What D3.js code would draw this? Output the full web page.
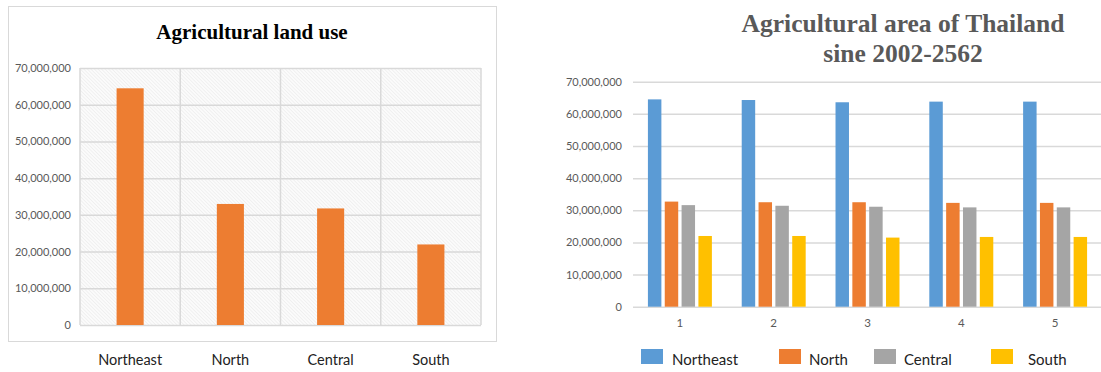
<!DOCTYPE html>
<html>
<head>
<meta charset="utf-8">
<script src="https://cdn.jsdelivr.net/npm/d3@7"></script>
<style>
  body { margin: 0; background: #fff; }
  svg { display: block; }
  .tick text { font-family: Lato, sans-serif; }
</style>
</head>
<body>
<svg id="chart" width="1101" height="372"></svg>
<script>
// left chart: land use by region
const regions = ['Northeast', 'North', 'Central', 'South'];
const landUse = [64470000, 32970000, 31750000, 21940000];

// right chart: area per year
const years = ['1', '2', '3', '4', '5'];
const northeast = [64500000, 64300000, 63600000, 63800000, 63800000];
const north = [32700000, 32500000, 32500000, 32300000, 32300000];
const central = [31600000, 31400000, 31100000, 30900000, 30900000];
const south = [22000000, 22000000, 21500000, 21700000, 21700000];
const yTicks = [0, 10000000, 20000000, 30000000, 40000000, 50000000, 60000000, 70000000];

const colors = ['#5B9BD5', '#ED7D31', '#A5A5A5', '#FFC000'];
const grid = '#d9d9d9';
const labelColor = '#595959';
const fmt = d3.format(',');

const svg = d3.select('#chart');

// hatched background for the left plot area
const defs = svg.append('defs');
const pat = defs.append('pattern')
    .attr('id', 'hatch')
    .attr('patternUnits', 'userSpaceOnUse')
    .attr('width', 2.5).attr('height', 2.5)
    .attr('patternTransform', 'rotate(-45)');
pat.append('rect').attr('width', 2.5).attr('height', 2.5).attr('fill', '#fbfbfb');
pat.append('line')
    .attr('x1', 0).attr('y1', 0).attr('x2', 0).attr('y2', 2.5)
    .attr('stroke', '#e8e8e8').attr('stroke-width', 1);

// ---------- left chart ----------
const left = svg.append('g');
left.append('rect')
    .attr('x', 8.5).attr('y', 6.5)
    .attr('width', 488).attr('height', 335)
    .attr('fill', '#fff').attr('stroke', grid);

left.append('text')
    .attr('x', 252).attr('y', 39)
    .attr('text-anchor', 'middle')
    .style('font-family', '"Liberation Serif", "Times New Roman", serif')
    .style('font-weight', 'bold')
    .style('font-size', '21px')
    .attr('fill', '#000')
    .text('Agricultural land use');

const lx = d3.scaleBand().domain(regions).range([80, 481])
    .paddingInner(0.73).paddingOuter(0.365);
const ly = d3.scaleLinear().domain([0, 70000000]).range([325, 68]);

left.append('rect')
    .attr('x', 80).attr('y', 68)
    .attr('width', 401).attr('height', 257)
    .attr('fill', 'url(#hatch)');

// horizontal grid + labels
const lAxis = left.append('g')
    .attr('transform', 'translate(80,0)')
    .call(d3.axisLeft(ly).tickValues(yTicks).tickFormat(fmt).tickSize(-401).tickPadding(9));
lAxis.select('.domain').remove();
lAxis.selectAll('.tick line').attr('stroke', grid).attr('stroke-width', 1.5);
lAxis.selectAll('.tick text').attr('fill', labelColor).style('font-size', '11px');

// vertical grid at band boundaries
const bounds = regions.map(r => lx(r) + lx.bandwidth() / 2 - lx.step() / 2)
    .concat([lx(regions[regions.length - 1]) + lx.bandwidth() / 2 + lx.step() / 2]);
left.selectAll('.vgrid').data(bounds).enter().append('line')
    .attr('x1', d => d).attr('x2', d => d)
    .attr('y1', 68).attr('y2', 325)
    .attr('stroke', grid).attr('stroke-width', 1.5);

left.selectAll('.bar').data(landUse).enter().append('rect')
    .attr('x', (d, i) => lx(regions[i]))
    .attr('y', d => ly(d))
    .attr('width', lx.bandwidth())
    .attr('height', d => ly(0) - ly(d))
    .attr('fill', colors[1]);

left.selectAll('.cat').data(regions).enter().append('text')
    .attr('x', d => lx(d) + lx.bandwidth() / 2)
    .attr('y', 360)
    .attr('dy', '0.35em')
    .attr('text-anchor', 'middle')
    .style('font-family', 'Lato, sans-serif')
    .style('font-size', '14.5px')
    .attr('fill', '#222')
    .text(d => d);

// ---------- right chart ----------
const right = svg.append('g');
const titleLines = ['Agricultural area of Thailand', 'sine 2002-2562'];
right.selectAll('.title').data(titleLines).enter().append('text')
    .attr('x', 903)
    .attr('y', (d, i) => 32 + i * 30)
    .attr('text-anchor', 'middle')
    .style('font-family', '"Liberation Serif", "Times New Roman", serif')
    .style('font-weight', 'bold')
    .style('font-size', '25.5px')
    .attr('fill', labelColor)
    .text(d => d);

const series = [northeast, north, central, south];
const names = ['Northeast', 'North', 'Central', 'South'];

const x0 = d3.scaleBand().domain(years).range([633, 1102])
    .paddingInner(0.318).paddingOuter(0.159);
const x1 = d3.scaleBand().domain(names).range([0, x0.bandwidth()]).paddingInner(0.2);
const ry = d3.scaleLinear().domain([0, 70000000]).range([306.7, 81.7]);

const rAxis = right.append('g')
    .attr('transform', 'translate(633,0)')
    .call(d3.axisLeft(ry).tickValues(yTicks).tickFormat(fmt).tickSize(-468).tickPadding(11));
rAxis.select('.domain').remove();
rAxis.selectAll('.tick line').attr('stroke', grid).attr('stroke-width', 1.5);
rAxis.selectAll('.tick text').attr('fill', labelColor).style('font-size', '11px');

const groups = right.selectAll('.grp').data(years).enter().append('g')
    .attr('transform', d => 'translate(' + x0(d) + ',0)');
groups.selectAll('rect')
    .data((d, i) => names.map((n, k) => ({ name: n, value: series[k][i], k: k })))
    .enter().append('rect')
    .attr('x', d => x1(d.name))
    .attr('y', d => ry(d.value))
    .attr('width', x1.bandwidth())
    .attr('height', d => ry(0) - ry(d.value))
    .attr('fill', d => colors[d.k]);

const xAxis = right.append('g')
    .attr('transform', 'translate(0,306.7)')
    .call(d3.axisBottom(x0).tickSize(0).tickPadding(12));
xAxis.select('.domain').remove();
xAxis.selectAll('.tick text').attr('fill', labelColor).style('font-size', '11.5px');

// legend
const legendSwatchX = [641, 779, 874, 991];
const legendTextX = [672, 809, 904, 1028];
const legend = right.selectAll('.leg').data(names).enter().append('g');
legend.append('rect')
    .attr('x', (d, i) => legendSwatchX[i])
    .attr('y', 349)
    .attr('width', 22).attr('height', 15)
    .attr('fill', (d, i) => colors[i]);
legend.append('text')
    .attr('x', (d, i) => legendTextX[i])
    .attr('y', 360)
    .attr('dy', '0.35em')
    .style('font-family', 'Lato, sans-serif')
    .style('font-size', '15px')
    .attr('fill', '#222')
    .text(d => d);
</script>
</body>
</html>
